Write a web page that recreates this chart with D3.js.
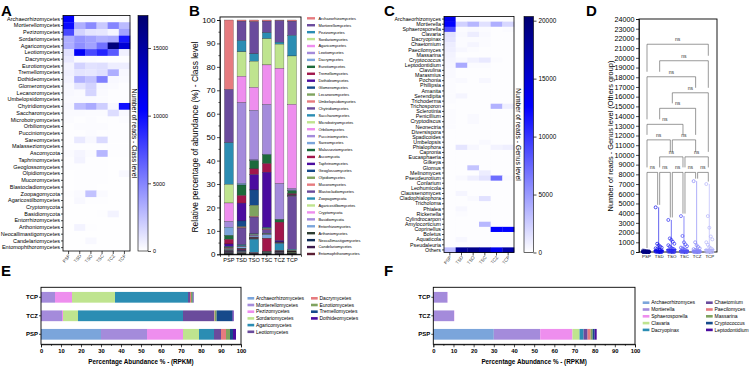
<!DOCTYPE html>
<html>
<head>
<meta charset="utf-8">
<script src="https://cdn.jsdelivr.net/npm/d3@7"></script>
<style>
  body { margin: 0; background: #fff; }
  svg { font-family: "Liberation Sans", Arial, sans-serif; }
</style>
</head>
<body>
<svg id="fig" width="750" height="367"></svg>
<script>
// ---------- data ----------
const sites = ["PSP", "TSD", "TSO", "TSC", "TCZ", "TCP"];

const classNames = ["Archaeorhizomycetes", "Mortierellomycetes", "Pezizomycetes", "Sordariomycetes", "Agaricomycetes",
  "Leotiomycetes", "Dacrymycetes", "Eurotiomycetes", "Tremellomycetes", "Dothideomycetes", "Glomeromycetes",
  "Lecanoromycetes", "Umbelopsidomycetes", "Chytridiomycetes", "Saccharomycetes", "Microbotryomycetes",
  "Orbiliomycetes", "Pucciniomycetes", "Sareomycetes", "Malasseziomycetes", "Ascomycota", "Taphrinomycetes",
  "Geoglossomycetes", "Olpidiomycetes", "Mucoromycetes", "Blastocladiomycetes", "Zoopagomycota",
  "Agaricostilbomycetes", "Cryptomycota", "Basidiomycota", "Entorrhizomycetes", "Arthoniomycetes",
  "Neocallimastigomycetes", "Candelariomycetes", "Entomophthoromycetes"];

// reads per class (rows) x site (cols)
const classReads = [
  [10500, 150, 200, 150, 100, 150],
  [10000, 3300, 4800, 2200, 5000, 2800],
  [7500, 1800, 1100, 1000, 400, 3800],
  [3300, 4300, 3800, 3200, 3500, 9500],
  [3300, 4600, 3800, 5800, 16800, 12500],
  [1200, 10800, 7500, 9000, 6800, 600],
  [900, 200, 150, 100, 100, 100],
  [500, 1800, 1200, 1300, 700, 700],
  [600, 1100, 1000, 1300, 3300, 300],
  [500, 3200, 2500, 5200, 300, 200],
  [300, 1100, 1800, 300, 200, 100],
  [300, 200, 1700, 200, 100, 100],
  [200, 200, 200, 150, 100, 100],
  [300, 2700, 3500, 2000, 300, 9800],
  [200, 200, 150, 150, 1400, 300],
  [150, 100, 150, 100, 100, 150],
  [100, 150, 150, 150, 100, 100],
  [100, 100, 150, 100, 100, 100],
  [100, 900, 300, 1500, 100, 100],
  [100, 100, 100, 100, 100, 100],
  [150, 400, 150, 3000, 100, 100],
  [100, 500, 100, 100, 50, 50],
  [100, 100, 100, 100, 50, 50],
  [50, 100, 100, 100, 50, 300],
  [50, 100, 100, 100, 50, 50],
  [50, 100, 100, 50, 50, 50],
  [100, 200, 2500, 200, 50, 50],
  [50, 300, 100, 100, 50, 50],
  [50, 50, 50, 50, 50, 50],
  [50, 50, 50, 100, 500, 50],
  [50, 50, 50, 50, 50, 50],
  [50, 500, 100, 50, 50, 50],
  [50, 50, 50, 50, 50, 50],
  [50, 50, 300, 50, 50, 50],
  [50, 50, 50, 50, 50, 50]
];

// relative abundance (%) per class x site
const classPct = [
  [30, 0.5, 0.7, 0.5, 0.3, 0.5],
  [23, 8.5, 13.4, 5, 9.3, 6.2],
  [18, 4.9, 3.1, 2.6, 0.9, 8.9],
  [8, 10.7, 10.9, 11.3, 10.5, 21],
  [8, 11.5, 9.5, 17.1, 50, 36.4],
  [2.5, 35.2, 20.7, 21.4, 15.4, 0.7],
  [3.5, 0.7, 0.3, 0.3, 0.2, 0.3],
  [1.7, 4.6, 3.4, 3.8, 1.1, 1.3],
  [2, 3.3, 2.4, 3.7, 8, 0.5],
  [1, 7.8, 6.4, 23.8, 0.6, 0.3],
  [0.4, 2.5, 6.4, 0.5, 0.2, 0.1],
  [0.3, 0.3, 4.6, 0.3, 0.1, 0.1],
  [0.3, 0.3, 0.3, 0.3, 0.1, 0.1],
  [0.3, 7.3, 7.0, 1.5, 0.3, 23],
  [0.2, 0.5, 0.3, 0.2, 3.0, 0.5],
  [0.2, 0.1, 0.2, 0.1, 0.1, 0.2],
  [0.1, 0.2, 0.2, 0.2, 0.1, 0.1],
  [0.1, 0.1, 0.2, 0.1, 0.1, 0.1],
  [0.1, 0.8, 0.5, 1.5, 0.1, 0.1],
  [0.1, 0.1, 0.1, 0.1, 0.1, 0.1],
  [0.2, 0.4, 0.2, 5.5, 0.1, 0.1],
  [0.1, 0.4, 0.1, 0.1, 0.05, 0.05],
  [0.1, 0.1, 0.1, 0.1, 0.05, 0.05],
  [0.1, 0.1, 0.1, 0.1, 0.05, 0.3],
  [0.1, 0.1, 0.1, 0.1, 0.05, 0.05],
  [0.1, 0.1, 0.1, 0.1, 0.05, 0.05],
  [0.1, 0.2, 5.5, 0.2, 0.05, 0.05],
  [0.1, 0.2, 0.1, 0.1, 0.05, 0.05],
  [0.1, 0.1, 0.1, 0.1, 0.05, 0.05],
  [0.1, 0.1, 0.1, 0.1, 0.4, 0.05],
  [0.05, 0.1, 0.1, 0.1, 0.05, 0.05],
  [0.05, 0.3, 0.1, 0.1, 0.05, 0.05],
  [0.05, 0.05, 0.05, 0.05, 0.05, 0.05],
  [0.05, 0.05, 0.2, 0.05, 0.05, 0.05],
  [0.05, 0.05, 0.05, 0.05, 0.05, 0.05]
];

const genusNames = ["Archaeorhizomyces", "Mortierella", "Sphaerosporella", "Clavaria", "Dacryopinax", "Chaetomium",
  "Paecilomyces", "Massarina", "Cryptococcus", "Leptodontidium", "Clavulina", "Marasmius", "Pochonia", "Phillipsia",
  "Amanita", "Serendipita", "Trichoderma", "Trichosporon", "Sclerotinia", "Penicillium", "Cryptodiscus",
  "Neonectria", "Diversispora", "Spadicoides", "Umbelopsis", "Phialophora", "Capronia", "Eucasphaeria", "Gilkeya",
  "Glomus", "Melinomyces", "Pseudeurotium", "Conlarium", "Leohumicola", "Claussenomyces", "Cladophialophora",
  "Tricholoma", "Phialea", "Rickenella", "Cylindrocarpon", "Amylocorticium", "Coprinellus", "Boletus",
  "Aquaticola", "Pseudaleuria", "Others"];

const genusReads = [
  [13500, 150, 200, 150, 100, 150],
  [12500, 2300, 3600, 1500, 4000, 2000],
  [9000, 200, 300, 200, 100, 200],
  [1500, 300, 900, 300, 100, 100],
  [1300, 200, 200, 200, 100, 100],
  [900, 200, 500, 200, 100, 100],
  [800, 400, 200, 100, 100, 100],
  [600, 100, 100, 100, 100, 100],
  [500, 300, 700, 1100, 200, 100],
  [400, 4200, 200, 200, 100, 100],
  [300, 100, 100, 100, 100, 100],
  [300, 100, 100, 100, 100, 100],
  [200, 300, 100, 400, 100, 100],
  [200, 100, 100, 100, 100, 100],
  [200, 100, 100, 100, 100, 100],
  [200, 500, 100, 100, 100, 100],
  [200, 100, 100, 100, 100, 100],
  [100, 100, 100, 100, 3800, 800],
  [200, 100, 100, 100, 100, 100],
  [200, 100, 300, 100, 100, 100],
  [200, 100, 300, 100, 100, 100],
  [200, 100, 100, 100, 100, 100],
  [100, 100, 100, 100, 100, 100],
  [100, 100, 100, 100, 100, 100],
  [100, 100, 100, 300, 100, 100],
  [100, 1300, 400, 100, 600, 800],
  [100, 100, 100, 100, 100, 100],
  [100, 100, 100, 100, 100, 100],
  [100, 100, 100, 100, 100, 100],
  [100, 100, 2900, 100, 100, 100],
  [100, 100, 100, 900, 100, 100],
  [100, 300, 800, 1400, 7200, 300],
  [100, 100, 100, 100, 100, 100],
  [100, 100, 100, 100, 100, 100],
  [100, 500, 100, 100, 100, 100],
  [100, 100, 300, 1500, 100, 100],
  [100, 100, 100, 100, 100, 100],
  [100, 400, 100, 100, 100, 100],
  [100, 200, 100, 100, 100, 100],
  [100, 100, 100, 100, 100, 100],
  [100, 100, 100, 3500, 100, 100],
  [100, 100, 100, 100, 12500, 12500],
  [100, 100, 100, 100, 100, 100],
  [100, 400, 100, 100, 100, 100],
  [100, 100, 100, 100, 100, 100],
  [3200, 18500, 19000, 17500, 13500, 17500]
];

// panel D: reads of the "Others" genera per site
const othersPSP = [150, 120, 90, 70, 60, 50, 40, 30, 25, 20, 15, 10, 8, 5, 3, 2, 0, 0, 0, 0];
const othersTSD = [4600, 850, 700, 560, 450, 380, 300, 250, 200, 160, 120, 90, 60, 40, 30, 20, 10, 5, 0, 0];
const othersTSO = [3300, 1400, 1250, 1050, 850, 700, 560, 420, 330, 260, 200, 150, 110, 80, 50, 30, 15, 5, 0, 0];
const othersTSC = [3700, 1650, 1000, 780, 600, 450, 350, 260, 200, 150, 100, 70, 50, 30, 20, 10, 5, 0, 0, 0];
const othersTCZ = [7300, 1000, 700, 520, 380, 300, 220, 160, 120, 90, 60, 40, 25, 15, 10, 5, 0, 0, 0, 0];
const othersTCP = [7000, 3700, 2500, 1600, 1300, 1000, 750, 500, 380, 280, 200, 140, 90, 60, 30, 15, 5, 0, 0, 0];

// pairwise comparisons (all ns) and the height of each bracket, in reads
const pairsD = [["PSP", "TCP"], ["TSD", "TCP"], ["PSP", "TCZ"], ["TSO", "TCP"], ["TSD", "TCZ"], ["PSP", "TSC"],
  ["PSP", "TSO"], ["TSO", "TCZ"], ["TSD", "TSC"], ["TSC", "TCP"],
  ["PSP", "TSD"], ["TSD", "TSO"], ["TSO", "TSC"], ["TSC", "TCZ"], ["TCZ", "TCP"]];
const pairLevels = [21400, 19700, 18050, 16400, 14800, 13150, 11550, 11550, 9800, 9800, 8200, 8200, 8200, 8200, 8200];

// panels E and F (RPKM %)
const barRows = ["PSP", "TCZ", "TCP"];
const eClasses = ["Archaeorhizomycetes", "Mortierellomycetes", "Pezizomycetes", "Sordariomycetes", "Agaricomycetes",
  "Leotiomycetes", "Dacrymycetes", "Eurotiomycetes", "Tremellomycetes", "Dothideomycetes"];
const ePSP = [30, 23, 18, 8, 7.5, 3.5, 2.5, 2, 1.5, 1.5];
const eTCZ = [0, 10.5, 0.5, 7.5, 52.5, 15.5, 0.3, 1, 8, 0.5];
const eTCP = [0, 7, 8.5, 21.5, 36.5, 1, 0.5, 0.8, 0.3, 0.2];

const fGenera = ["Archaeorhizomyces", "Mortierella", "Sphaerosporella", "Clavaria", "Dacryopinax", "Chaetomium",
  "Paecilomyces", "Massarina", "Cryptococcus", "Leptodontidium"];
const fPSP = [30, 23, 16, 3.5, 2, 2, 1.5, 1, 1, 1];
const fTCZ = [0, 10.3, 0.1, 0, 0, 0, 0, 0, 0, 0];
const fTCP = [0, 7, 0.1, 0, 0, 0, 0, 0, 0, 0];

// ---------- styles ----------
const FONT = '"Liberation Sans", Arial, sans-serif';
const intFmt = d3.format("d");
const cycle12 = ["#e67b7f", "#6a4b9c", "#2b8db3", "#bfe48f", "#ee8eee", "#a48bdb", "#7ba5db", "#1d6a3b",
  "#a1164b", "#4b0c9f", "#164a8b", "#7fa35f"];
const tail = ["#2d3d31", "#0e2b57", "#3b1a4c", "#5a1f33"];
const classColors = classNames.map((c, i) => i < 31 ? cycle12[i % 12] : tail[i - 31]);
const hColors = ["#7ba5db", "#a48bdb", "#ee8eee", "#bfe48f", "#2b8db3", "#6a4b9c", "#e67b7f", "#7fa35f", "#164a8b", "#4b0c9f"];
const dColors = ["#000080", "#0a0ae6", "#2a2af2", "#4f4ff6", "#8484f8", "#b4b4fb"];

const svg = d3.select("#fig");
const defs = svg.append("defs");

function styleAxis(a, size, bold) {
  a.attr("font-family", FONT).attr("font-size", size);
  if (bold) a.attr("font-weight", "bold");
  a.selectAll("line,path").attr("stroke", "#000").attr("stroke-width", 0.7);
  return a;
}

function letter(t, x, y) {
  svg.append("text").attr("x", x).attr("y", y).attr("font-size", 15).attr("font-weight", "bold").text(t);
}

// ---------- heatmaps (A, C) ----------
function drawHeatmap(rows, matrix, o) {
  const g = svg.append("g");
  const x = d3.scaleBand().domain(sites).range([o.left, o.right]);
  const y = d3.scaleBand().domain(rows).range([o.top, o.bottom]);
  const color = d3.scaleLinear().domain([0, o.max * o.mid, o.max])
    .range(["#ffffff", "#0000ff", "#000070"]).clamp(true);

  const cells = [];
  rows.forEach((r, i) => sites.forEach((s, j) => cells.push({ r, s, v: matrix[i][j] })));
  g.selectAll("rect.cell").data(cells).enter().append("rect")
    .attr("class", "cell")
    .attr("x", d => x(d.s)).attr("y", d => y(d.r))
    .attr("width", x.bandwidth() + 0.3).attr("height", y.bandwidth() + 0.3)
    .attr("fill", d => color(d.v));
  g.append("rect").attr("x", o.left).attr("y", o.top)
    .attr("width", o.right - o.left).attr("height", o.bottom - o.top)
    .attr("fill", "none").attr("stroke", "#000").attr("stroke-width", 0.8);

  const ya = g.append("g").attr("transform", `translate(${o.left},0)`)
    .call(d3.axisLeft(y).tickSize(2).tickPadding(1));
  ya.select(".domain").remove();
  styleAxis(ya, o.labelSize);

  const xa = g.append("g").attr("transform", `translate(0,${o.bottom})`)
    .call(d3.axisBottom(x).tickSize(3));
  xa.select(".domain").remove();
  styleAxis(xa, 4.6);
  xa.selectAll("text").attr("y", 0).attr("dy", 0).attr("fill", "#444")
    .attr("text-anchor", "end").attr("transform", "translate(2,5) rotate(-50)");

  // colour bar
  const gid = "grad" + Math.round(o.left);
  const grad = defs.append("linearGradient").attr("id", gid)
    .attr("x1", 0).attr("y1", 1).attr("x2", 0).attr("y2", 0);
  [0, o.mid, 1].forEach(t => grad.append("stop").attr("offset", t).attr("stop-color", color(t * o.max)));
  g.append("rect").attr("x", o.cbX).attr("y", o.top).attr("width", o.cbW).attr("height", o.cbBottom - o.top)
    .attr("fill", `url(#${gid})`).attr("stroke", "#000").attr("stroke-width", 0.6);
  const cs = d3.scaleLinear().domain([0, o.max]).range([o.cbBottom, o.top]);
  const ca = g.append("g").attr("transform", `translate(${o.cbX + o.cbW},0)`)
    .call(d3.axisRight(cs).tickValues(o.ticks).tickFormat(intFmt).tickSize(3).tickPadding(2));
  ca.select(".domain").remove();
  styleAxis(ca, o.cbSize);
  g.append("text").attr("transform", `translate(${o.titleX},${(o.top + o.cbBottom) / 2}) rotate(90)`)
    .attr("text-anchor", "middle").attr("font-size", 6.8).text(o.title);
}

drawHeatmap(classNames, classReads, {
  left: 63, right: 130, top: 15.5, bottom: 251, max: 17400, mid: 0.6, labelSize: 5.5,
  cbX: 138, cbW: 10, cbBottom: 251, ticks: [0, 5000, 10000, 15000], cbSize: 5.4,
  titleX: 131.5, title: "Number of reads - Class level"
});

drawHeatmap(genusNames, genusReads, {
  left: 444, right: 514, top: 16.5, bottom: 252.5, max: 20360, mid: 0.62, labelSize: 5.3,
  cbX: 524, cbW: 9.5, cbBottom: 252.5, ticks: [0, 5000, 10000, 15000, 20000], cbSize: 6.4,
  titleX: 516, title: "Number of reads - Genus level"
});

// ---------- B: stacked relative abundance ----------
(function () {
  const g = svg.append("g");
  const x = d3.scaleBand().domain(sites).range([220, 301]).paddingInner(0.29).paddingOuter(0.35);
  const y = d3.scaleLinear().domain([0, 100]).range([254.3, 20]);
  const rowsB = sites.map((s, j) => {
    const r = { site: s };
    classNames.forEach((c, i) => r[c] = classPct[i][j]);
    return r;
  });
  const series = d3.stack().keys(classNames).order(d3.stackOrderReverse).offset(d3.stackOffsetExpand)(rowsB);

  g.selectAll("g.layer").data(series).enter().append("g")
    .attr("fill", d => classColors[classNames.indexOf(d.key)])
    .selectAll("rect").data(d => d).enter().append("rect")
    .attr("x", d => x(d.data.site)).attr("width", x.bandwidth())
    .attr("y", d => y(d[1] * 100)).attr("height", d => y(d[0] * 100) - y(d[1] * 100))
    .attr("stroke", "#222").attr("stroke-width", 0.25);

  g.append("rect").attr("x", 220).attr("y", y(101.3)).attr("width", 81).attr("height", y(0) - y(101.3))
    .attr("fill", "none").attr("stroke", "#000").attr("stroke-width", 0.9);

  const ya = g.append("g").attr("transform", "translate(220,0)")
    .call(d3.axisLeft(y).tickValues(d3.range(0, 101, 10)).tickSize(3).tickPadding(1.5));
  styleAxis(ya, 8);
  g.append("g").attr("transform", "translate(220,0)")
    .call(d3.axisLeft(y).tickValues(d3.range(5, 100, 10)).tickSize(1.6).tickFormat(""))
    .call(a => { a.select(".domain").remove(); a.selectAll("line").attr("stroke", "#000").attr("stroke-width", 0.6); });

  const xa = g.append("g").attr("transform", `translate(0,${y(0)})`)
    .call(d3.axisBottom(x).tickSize(2.5).tickPadding(1.5));
  styleAxis(xa, 5.6);

  g.append("text").attr("transform", `translate(197.5,137) rotate(-90)`).attr("text-anchor", "middle")
    .attr("font-size", 8.4).text("Relative percentage of abundance (%) - Class level");

  const ly = d3.scalePoint().domain(classNames).range([18.3, 254]);
  const lg = g.selectAll("g.leg").data(classNames).enter().append("g")
    .attr("transform", d => `translate(307,${ly(d)})`);
  lg.append("rect").attr("x", 0).attr("y", -1.2).attr("width", 8).attr("height", 2.4)
    .attr("fill", (d, i) => classColors[i]);
  lg.append("text").attr("x", 11.5).attr("y", 1.4).attr("font-size", 3.9).text(d => d);
})();

// ---------- D: Others group reads ----------
(function () {
  const g = svg.append("g");
  const groups = [othersPSP, othersTSD, othersTSO, othersTSC, othersTCZ, othersTCP];
  const x = d3.scalePoint().domain(sites).range([646, 709.3]);
  const y = d3.scaleLinear().domain([0, 24000]).range([252, 19]);

  g.append("rect").attr("x", 639).attr("y", 19).attr("width", 78).attr("height", 233)
    .attr("fill", "none").attr("stroke", "#000").attr("stroke-width", 0.9);
  const ya = g.append("g").attr("transform", "translate(639,0)")
    .call(d3.axisLeft(y).tickValues(d3.range(0, 24001, 1000)).tickFormat(intFmt).tickSize(3).tickPadding(1.5));
  styleAxis(ya, 7.2);
  const xa = g.append("g").attr("transform", "translate(0,252)")
    .call(d3.axisBottom(x).tickSize(2).tickPadding(1));
  xa.select(".domain").remove();
  styleAxis(xa, 4.4);
  g.append("text").attr("transform", "translate(612.5,136) rotate(-90)").attr("text-anchor", "middle")
    .attr("font-size", 7.4).text("Number of reads - Genus level (Others group)");

  // data: range line, median, points
  groups.forEach((vals, gi) => {
    const cx = x(sites[gi]);
    const col = dColors[gi];
    g.append("line").attr("x1", cx).attr("x2", cx).attr("y1", y(d3.min(vals))).attr("y2", y(d3.max(vals)))
      .attr("stroke", col).attr("stroke-width", 0.8).attr("opacity", 0.8);
    g.append("line").attr("x1", cx - 5).attr("x2", cx + 5).attr("y1", y(d3.median(vals))).attr("y2", y(d3.median(vals)))
      .attr("stroke", col).attr("stroke-width", 1.4);
    g.selectAll(null).data(vals).enter().append("circle")
      .attr("cx", (d, i) => cx + ((i % 5) - 2) * 1.5)
      .attr("cy", d => y(d)).attr("r", 1.5)
      .attr("fill", "none").attr("stroke", col).attr("stroke-width", 0.7);
  });

  // significance brackets
  const idx = s => sites.indexOf(s);
  const brackets = pairsD.map((p, k) => ({ a: idx(p[0]), b: idx(p[1]), level: pairLevels[k] }));
  const legEnd = (br, gi) => {
    const below = brackets.filter(o => o.level < br.level && o.a <= gi && gi <= o.b);
    if (below.length) return y(d3.max(below, o => o.level)) - 5;
    return y(d3.max(groups[gi])) - 2.5;
  };
  brackets.forEach(br => {
    const x1 = x(sites[br.a]) + 1, x2 = x(sites[br.b]) - 1, yy = y(br.level);
    g.append("path")
      .attr("d", `M${x1},${legEnd(br, br.a)}V${yy}H${x2}V${legEnd(br, br.b)}`)
      .attr("fill", "none").attr("stroke", "#555").attr("stroke-width", 0.6);
    g.append("text").attr("x", (x1 + x2) / 2).attr("y", yy - 3).attr("text-anchor", "middle")
      .attr("font-size", 5).attr("fill", "#333").text("ns");
  });
})();

// ---------- E, F: horizontal stacked bars ----------
function drawHBars(keys, vals, o) {
  const g = svg.append("g");
  const x = d3.scaleLinear().domain([0, 100]).range([o.left, o.right]);
  const y = d3.scaleBand().domain(barRows).range([344.3, 287.3]).paddingInner(0.42).paddingOuter(0.25);
  const data = barRows.map((r, ri) => {
    const d = { row: r };
    keys.forEach((k, i) => d[k] = vals[ri][i]);
    return d;
  });
  const series = d3.stack().keys(keys)(data);
  g.selectAll("g.layer").data(series).enter().append("g")
    .attr("fill", (d, i) => hColors[i])
    .selectAll("rect").data(d => d).enter().append("rect")
    .attr("y", d => y(d.data.row)).attr("height", y.bandwidth())
    .attr("x", d => x(d[0])).attr("width", d => x(d[1]) - x(d[0]));

  g.append("rect").attr("x", o.left).attr("y", 287.3).attr("width", o.right - o.left).attr("height", 57)
    .attr("fill", "none").attr("stroke", "#000").attr("stroke-width", 0.9);
  const xa = g.append("g").attr("transform", "translate(0,344.3)")
    .call(d3.axisBottom(x).tickValues(d3.range(0, 101, 10)).tickSize(3).tickPadding(1.5));
  styleAxis(xa, 5.8, true);
  g.append("g").attr("transform", "translate(0,344.3)")
    .call(d3.axisBottom(x).tickValues(d3.range(5, 100, 10)).tickSize(1.6).tickFormat(""))
    .call(a => { a.select(".domain").remove(); a.selectAll("line").attr("stroke", "#000").attr("stroke-width", 0.6); });
  const ya = g.append("g").attr("transform", `translate(${o.left},0)`)
    .call(d3.axisLeft(y).tickSize(2).tickPadding(1));
  ya.select(".domain").remove();
  styleAxis(ya, 6, true);
  g.append("text").attr("x", (o.left + o.right) / 2).attr("y", 363.5).attr("text-anchor", "middle")
    .attr("font-size", 6.3).attr("font-weight", "bold").text("Percentage Abundance % - (RPKM)");

  // legend in two columns
  keys.forEach((k, i) => {
    const col = i < o.perCol ? 0 : 1;
    const row = col ? i - o.perCol : i;
    const lx = o.legX[col], ly = o.legY + row * o.legStep;
    g.append("rect").attr("x", lx).attr("y", ly - 1.3).attr("width", 6.7).attr("height", 2.6).attr("fill", hColors[i]);
    g.append("text").attr("x", lx + 8.5).attr("y", ly + 1.7).attr("font-size", 5).text(k);
  });
}

drawHBars(eClasses, [ePSP, eTCZ, eTCP], {
  left: 41, right: 241, perCol: 6, legX: [247.5, 311], legY: 298.3, legStep: 6.7
});
drawHBars(fGenera, [fPSP, fTCZ, fTCP], {
  left: 433.3, right: 635, perCol: 5, legX: [642.7, 706], legY: 302.7, legStep: 6.8
});

letter("A", 1, 15.5);
letter("B", 189, 15.5);
letter("C", 384, 15.5);
letter("D", 586, 15.5);
letter("E", 1, 276);
letter("F", 384, 276);
</script>
</body>
</html>
